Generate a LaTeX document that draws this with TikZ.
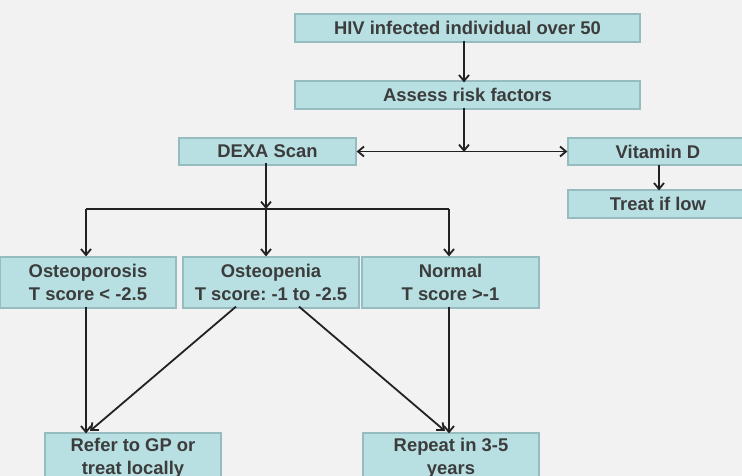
\documentclass[tikz,border=0pt]{standalone}
\usepackage{fontspec}
\setmainfont{Liberation Sans}
\usetikzlibrary{arrows.meta}
\definecolor{bgGrey}{HTML}{F2F2F2}
\definecolor{boxFill}{HTML}{B8E0E3}
\definecolor{boxLine}{HTML}{96BCC0}
\definecolor{txtGrey}{HTML}{3C3C3C}
\definecolor{arrGrey}{HTML}{222222}
\frenchspacing

\begin{document}
\begin{tikzpicture}[x=1pt,y=-1pt,
    box/.style={draw=boxLine, line width=1.2pt, fill=boxFill, inner sep=0pt,
        align=center, text=txtGrey, minimum height=28pt,
        font=\fontsize{18.4}{22.6}\selectfont\bfseries},
    tallbox/.style={box, minimum width=176pt, minimum height=51pt},
    tip/.style={Straight Barb[length=6pt,width=10pt]},
    arr/.style={draw=arrGrey, line width=1.8pt, -{Straight Barb[length=6pt,width=10pt]}}]
    % Background
    \useasboundingbox (0,0) rectangle (742,476);
    \fill[bgGrey] (0,0) rectangle (742,476);
    \clip (0,0) rectangle (742,476);

    % Top boxes
    \node[box, minimum width=345pt] (hiv) at (467.5,28) {HIV infected individual over 50};
    \node[box, minimum width=345pt] (risk) at (467.5,95) {Assess risk factors};
    \node[box, minimum width=177pt, minimum height=27pt] (dexa) at (267.5,151.5) {DEXA Scan};
    \node[box, minimum width=180pt, minimum height=27pt] (vitd) at (658,151.5) {Vitamin D};
    \node[box, minimum width=180pt] (treat) at (658,204) {Treat if low};

    % T score boxes
    \node[tallbox] (porosis) at (88,282.5) {Osteoporosis\\T score < -2.5};
    \node[tallbox] (penia) at (271,282.5) {Osteopenia\\T score: -1 to -2.5};
    \node[tallbox, minimum width=177pt] (normal) at (450.5,282.5) {Normal\\T score >-1};

    % Outcome boxes
    \node[tallbox] (refer) at (133,458.5) {Refer to GP or\\treat locally};
    \node[tallbox] (repeat) at (451,458.5) {Repeat in 3-5\\years};

    % Split points
    \coordinate (split) at (464,152);
    \coordinate (busL) at (86,209);
    \coordinate (busM) at (266,209);
    \coordinate (busR) at (449,209);

    % Upper arrows
    \draw[arr] ([yshift=2pt]hiv.south -| split) -- ([yshift=-2pt]risk.north -| split);
    \draw[arr] ([yshift=2pt]risk.south -| split) -- (split);
    \draw[arr, {Straight Barb[length=6pt,width=10pt]}-{Straight Barb[length=6pt,width=10pt]}] (dexa.east) -- (vitd.west);
    \draw[arr] ([yshift=1pt]vitd.south -| 659,0) -- ([yshift=-1pt]treat.north -| 659,0);

    % Branches from DEXA
    \draw[arr] ([yshift=3pt]dexa.south -| busM) -- (busM);
    \draw[draw=arrGrey, line width=1.8pt] (busL) -- (busR);
    \draw[arr] (busL) -- (porosis.north -| busL);
    \draw[arr] (busM) -- (penia.north -| busM);
    \draw[arr] (busR) -- (normal.north -| busR);

    % Lower arrows
    \draw[arr] ([yshift=2pt]porosis.south -| busL) -- ([yshift=-1pt]refer.north -| busL);
    \draw[arr] ([xshift=-35pt,yshift=2pt]penia.south) -- (90,431);
    \draw[arr] ([xshift=28pt,yshift=2pt]penia.south) -- (445,431);
    \draw[arr] ([yshift=2pt]normal.south -| busR) -- ([yshift=-1pt]repeat.north -| busR);
\end{tikzpicture}
\end{document}
